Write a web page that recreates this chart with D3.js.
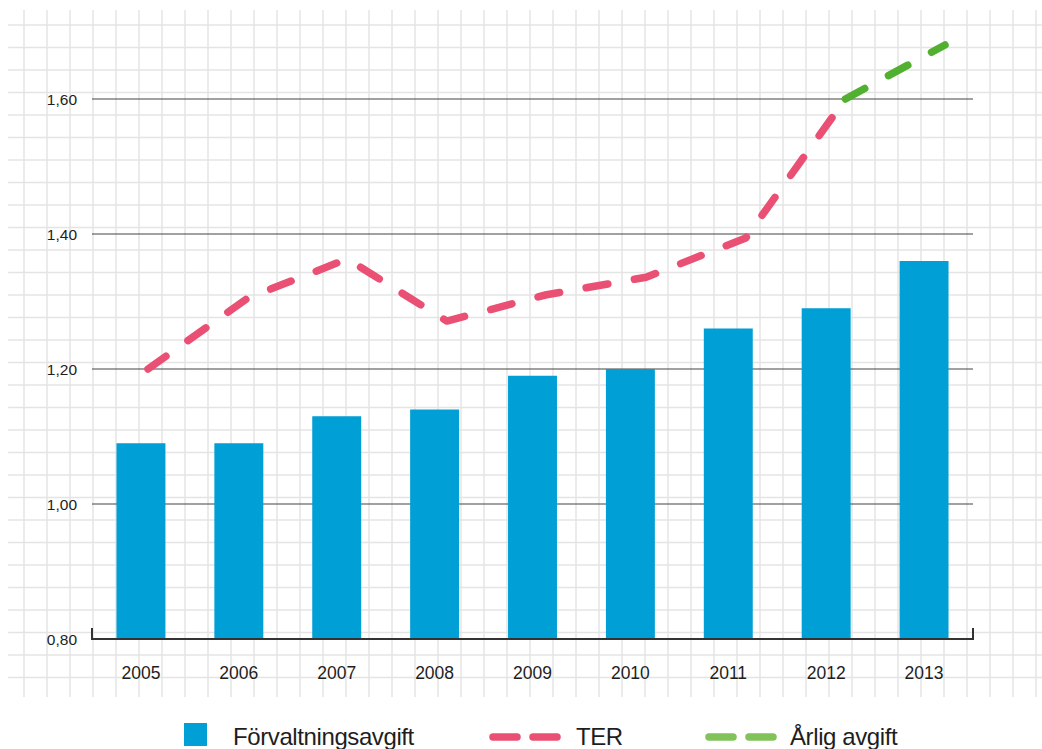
<!DOCTYPE html>
<html>
<head>
<meta charset="utf-8">
<script src="https://cdn.jsdelivr.net/npm/d3@7"></script>
<style>
  body { margin: 0; background: #fff; }
  svg { display: block; }
  text { font-family: "Liberation Sans", Arial, sans-serif; fill: #1e1e1e; }
</style>
</head>
<body>
<svg width="1042" height="749"></svg>
<script>
var years = ["2005", "2006", "2007", "2008", "2009", "2010", "2011", "2012", "2013"];
var forvaltning = [1.09, 1.09, 1.13, 1.14, 1.19, 1.20, 1.26, 1.29, 1.36];
var ter = [1.20, 1.305, 1.363, 1.271, 1.31, 1.336, 1.394, 1.60];
var arligYears = ["2012", "2013"];
var arlig = [1.60, 1.68];
var yTicks = [0.8, 1.0, 1.2, 1.4, 1.6];

var svg = d3.select("svg"),
    width = +svg.attr("width"),
    height = +svg.attr("height");

var blue = "#009fd5", pink = "#ea5073", green = "#52b030", greenLegend = "#82c25a";

// background grid paper
var grid = svg.append("g").attr("class", "grid");
grid.selectAll("line.v")
  .data(d3.range(24, width, 23))
  .enter().append("line")
    .attr("x1", d => d).attr("x2", d => d)
    .attr("y1", 10).attr("y2", 697)
    .attr("stroke", "#e4e4e4").attr("stroke-width", 1.5);
grid.selectAll("line.h")
  .data(d3.range(25, 690, 22.5))
  .enter().append("line")
    .attr("x1", 8).attr("x2", width)
    .attr("y1", d => d).attr("y2", d => d)
    .attr("stroke", "#e4e4e4").attr("stroke-width", 1.5);

var y = d3.scaleLinear().domain([0.8, 1.6]).range([639, 99]);

var x = d3.scaleBand()
    .domain(years)
    .range([92, 973])
    .paddingInner(0.5)
    .paddingOuter(0.25);

var xLine = d3.scalePoint().domain(years).range([148, 945]);

var fmt = d => d3.format(".2f")(d).replace(".", ",");

// horizontal reference lines
svg.append("g")
  .selectAll("line")
  .data(yTicks.slice(1))
  .enter().append("line")
    .attr("x1", 92).attr("x2", 973)
    .attr("y1", d => y(d)).attr("y2", d => y(d))
    .attr("stroke", "#444").attr("stroke-width", 1.2);

// y labels
svg.append("g")
  .selectAll("text")
  .data(yTicks)
  .enter().append("text")
    .attr("x", 77)
    .attr("y", d => y(d))
    .attr("dy", "0.36em")
    .attr("text-anchor", "end")
    .attr("font-size", 15.5)
    .text(fmt);

// bars
svg.append("g")
  .selectAll("rect")
  .data(forvaltning)
  .enter().append("rect")
    .attr("x", (d, i) => x(years[i]))
    .attr("y", d => y(d))
    .attr("width", x.bandwidth())
    .attr("height", d => y(0.8) - y(d))
    .attr("fill", blue);

// x axis baseline
svg.append("path")
    .attr("d", "M92," + (y(0.8) - 11) + "V" + y(0.8) + "H973V" + (y(0.8) - 11))
    .attr("fill", "none")
    .attr("stroke", "#333")
    .attr("stroke-width", 2);

svg.append("g")
  .selectAll("text")
  .data(years)
  .enter().append("text")
    .attr("x", d => x(d) + x.bandwidth() / 2)
    .attr("y", 679)
    .attr("text-anchor", "middle")
    .attr("font-size", 17.5)
    .text(d => d);

// lines
var line = d3.line().x(d => xLine(d[0])).y(d => y(d[1]));

svg.append("path")
    .datum(ter.map((v, i) => [years[i], v]))
    .attr("d", line)
    .attr("fill", "none")
    .attr("stroke", pink)
    .attr("stroke-width", 7.5)
    .attr("stroke-linecap", "round")
    .attr("stroke-linejoin", "round")
    .attr("stroke-dasharray", "22,27");

svg.append("path")
    .datum(arlig.map((v, i) => [arligYears[i], v]))
    .attr("d", line)
    .attr("fill", "none")
    .attr("stroke", green)
    .attr("stroke-width", 7.5)
    .attr("stroke-linecap", "round")
    .attr("stroke-linejoin", "round")
    .attr("stroke-dasharray", "22,27");

// legend
var lg = svg.append("g").attr("class", "legend");
lg.append("rect")
    .attr("x", 184).attr("y", 723)
    .attr("width", 23).attr("height", 23)
    .attr("fill", blue);
lg.append("text")
    .attr("x", 233).attr("y", 745)
    .attr("font-size", 24).attr("letter-spacing", -0.4)
    .text("Förvaltningsavgift");

function legendDash(x0, col) {
  [0, 40].forEach(function (o) {
    lg.append("line")
      .attr("x1", x0 + o + 4).attr("x2", x0 + o + 28)
      .attr("y1", 737).attr("y2", 737)
      .attr("stroke", col).attr("stroke-width", 7.5)
      .attr("stroke-linecap", "round");
  });
}
legendDash(489, pink);
lg.append("text")
    .attr("x", 576).attr("y", 745)
    .attr("font-size", 24).attr("letter-spacing", -0.4)
    .text("TER");
legendDash(705, greenLegend);
lg.append("text")
    .attr("x", 790).attr("y", 745)
    .attr("font-size", 24).attr("letter-spacing", -0.4)
    .text("Årlig avgift");
</script>
</body>
</html>
